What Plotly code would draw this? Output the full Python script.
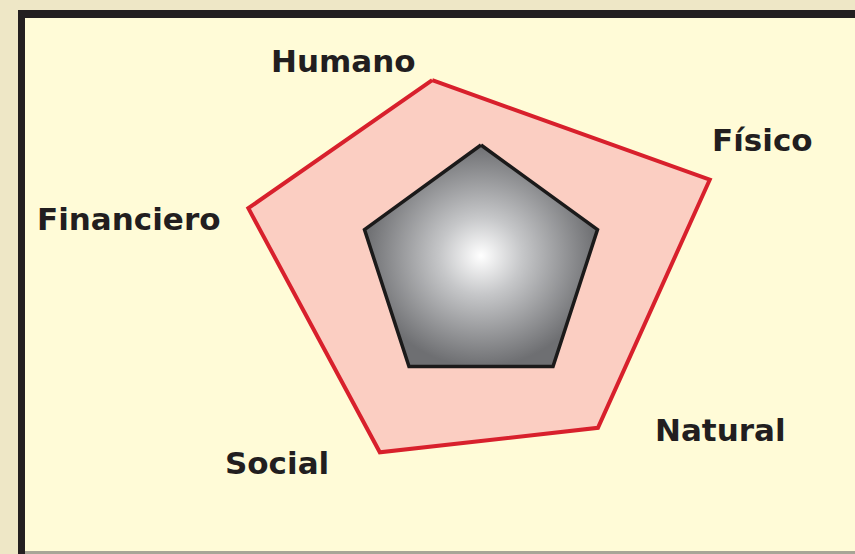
import numpy as np
import plotly.graph_objects as go

# ---- data ----
categories = ["Humano", "Físico", "Natural", "Social", "Financiero"]
axis_angles = [90, 18, -54, -126, 162]              # regular pentagon spokes (deg)
base_values = [5, 5, 5, 5, 5]                        # grey reference pentagon
current_values = [7.9, 10.0, 8.1, 8.6, 9.8]          # red pentagon
current_angles = [104.6, 21.0, -53.9, -118.7, 165.7] # angle of each red vertex (deg)

# ---- layout helpers (not data) ----
PX_PER_UNIT = 24.5
W, H = 855, 554
CX, CY = 481, 267.5  # centre of the radar in figure pixels

label_pos = {  # label centres in figure pixels
    "Humano": (343, 61),
    "Físico": (762, 140),
    "Natural": (720, 430),
    "Social": (277, 463),
    "Financiero": (128, 219),
}


def polar_to_xy(r, theta):
    r = np.asarray(r, float)
    t = np.radians(np.asarray(theta, float))
    x = r * np.cos(t)
    y = r * np.sin(t)
    return np.append(x, x[0]), np.append(y, y[0])


fig = go.Figure()

rx, ry = polar_to_xy(current_values, current_angles)
fig.add_trace(go.Scatter(
    x=rx, y=ry, mode="lines", fill="toself",
    fillcolor="#FBCEC2",
    line=dict(color="#D8202C", width=4, shape="linear"),
    hoverinfo="skip", showlegend=False,
))

gx, gy = polar_to_xy(base_values, axis_angles)
fig.add_trace(go.Scatter(
    x=gx, y=gy, mode="lines", fill="toself",
    fillgradient=dict(type="radial",
                      colorscale=[[0, "#FFFFFF"], [0.35, "#C6C7C9"], [1, "#6E6F72"]]),
    line=dict(color="#1B1A1A", width=3.5),
    hoverinfo="skip", showlegend=False,
))

for name in categories:
    px, py = label_pos[name]
    fig.add_annotation(
        x=(px - CX) / PX_PER_UNIT, y=(CY - py) / PX_PER_UNIT,
        text="<b>%s</b>" % name, showarrow=False,
        xanchor="center", yanchor="middle",
        font=dict(family="DejaVu Sans", size=31, color="#221E1F"),
    )

shapes = [
    # panel
    dict(type="rect", xref="paper", yref="paper",
         x0=21 / W, x1=1.01, y0=1 - 551 / H, y1=1 - 14 / H,
         fillcolor="#FFFBD7", line=dict(width=0), layer="below"),
    # dark top and left border
    dict(type="line", xref="paper", yref="paper",
         x0=18 / W, x1=1.01, y0=1 - 14 / H, y1=1 - 14 / H,
         line=dict(color="#231F20", width=8), layer="below"),
    dict(type="line", xref="paper", yref="paper",
         x0=21.5 / W, x1=21.5 / W, y0=-0.01, y1=1 - 10 / H,
         line=dict(color="#231F20", width=7), layer="below"),
    # bottom grey line
    dict(type="rect", xref="paper", yref="paper",
         x0=25 / W, x1=1.01, y0=-0.01, y1=1 - 551 / H,
         fillcolor="#A7A596", line=dict(width=0), layer="below"),
]

fig.update_layout(
    width=W, height=H,
    margin=dict(l=0, r=0, t=0, b=0, pad=0),
    paper_bgcolor="#EEE7C6",
    plot_bgcolor="rgba(0,0,0,0)",
    shapes=shapes,
    xaxis=dict(range=[-CX / PX_PER_UNIT, (W - CX) / PX_PER_UNIT], visible=False,
               showgrid=False, zeroline=False, fixedrange=True),
    yaxis=dict(range=[-(H - CY) / PX_PER_UNIT, CY / PX_PER_UNIT], visible=False,
               showgrid=False, zeroline=False, fixedrange=True),
    showlegend=False,
)

fig.write_html(
    "out.html",
    config={"displayModeBar": False, "staticPlot": True},
    post_script="document.body.style.margin='0';document.body.style.padding='0';"
                "document.body.style.overflow='hidden';",
)
